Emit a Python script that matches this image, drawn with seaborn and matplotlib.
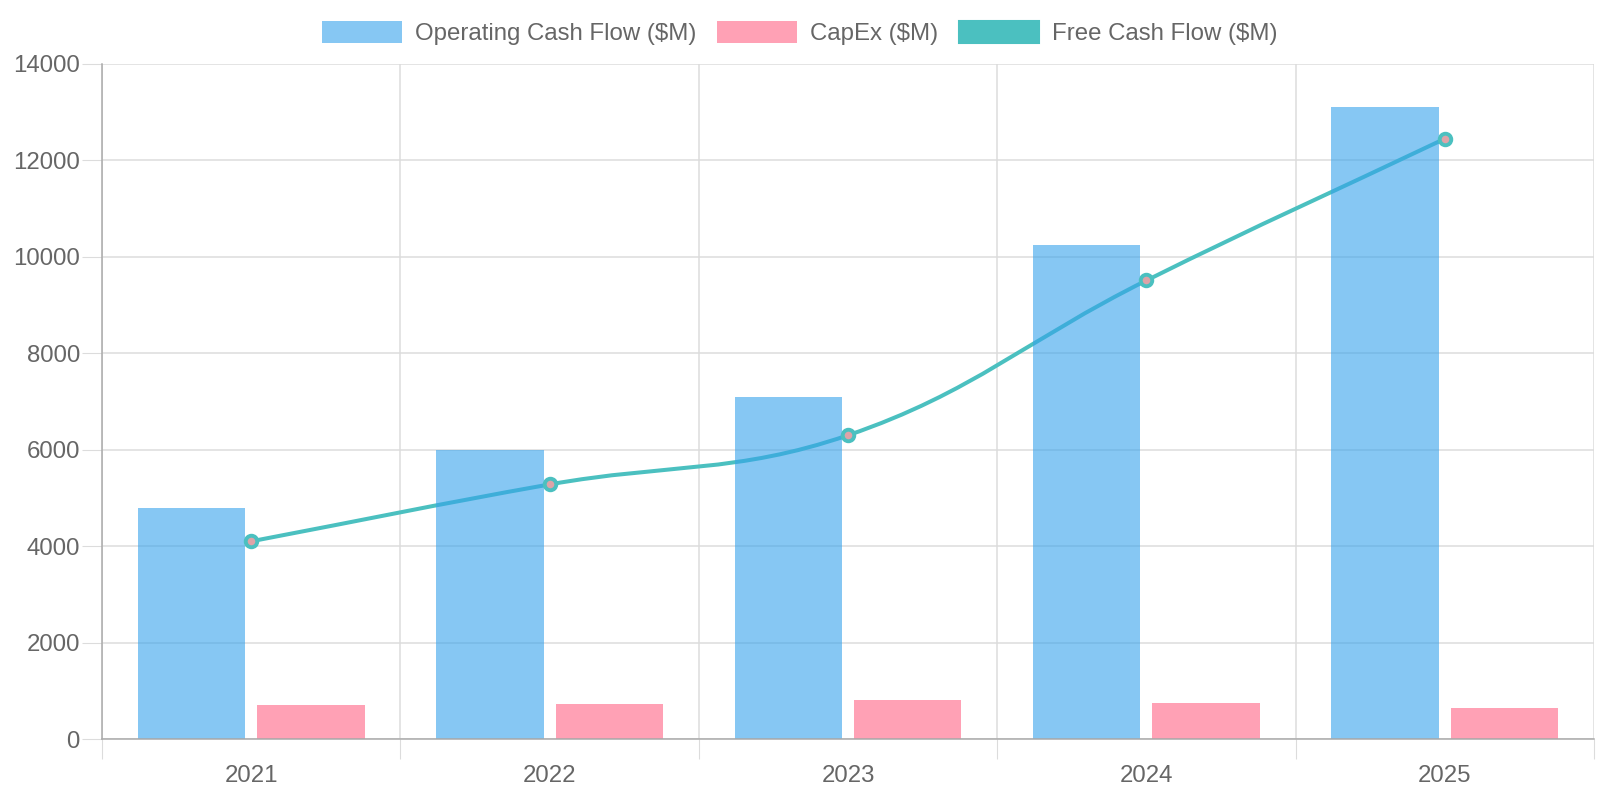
import numpy as np
import pandas as pd
import matplotlib
matplotlib.use("Agg")
import matplotlib.pyplot as plt
from matplotlib.patches import Patch, PathPatch
from matplotlib.path import Path
import seaborn as sns

# ---------------------------------------------------------------
# Data
# ---------------------------------------------------------------
years = ["2021", "2022", "2023", "2024", "2025"]
operating_cf = [4800, 6000, 7100, 10250, 13100]
capex = [700, 720, 800, 740, 650]
free_cf = [4100, 5280, 6300, 9510, 12450]

series_names = ["Operating Cash Flow ($M)", "CapEx ($M)", "Free Cash Flow ($M)"]
y_ticks = [0, 2000, 4000, 6000, 8000, 10000, 12000, 14000]

BLUE = "#36A2EB"
PINK = "#FF6384"
TEAL = "#4BC0C0"
GRID = "#dcdcdc"
TEXT = "#666666"
FS = 17.3

bars_df = pd.DataFrame({
    "Year": years * 2,
    "Value": operating_cf + capex,
    "Series": [series_names[0]] * len(years) + [series_names[1]] * len(years),
})

# ---------------------------------------------------------------
# Figure
# ---------------------------------------------------------------
sns.set_theme(style="white")
plt.rcParams["font.family"] = ["Liberation Sans", "DejaVu Sans"]

fig = plt.figure(figsize=(16, 8), dpi=100)
ax = fig.add_axes([102 / 1600, 1 - 739 / 800, (1594 - 102) / 1600, (739 - 64) / 800])

sns.barplot(
    data=bars_df, x="Year", y="Value", hue="Series",
    palette=[BLUE, PINK], width=0.8, gap=0.1, saturation=1,
    alpha=0.6, linewidth=0, legend=False, ax=ax, zorder=3,
)

ax.set_xlim(-0.5, len(years) - 0.5)
ax.set_ylim(0, 14000)
ax.set_yticks(y_ticks)
ax.set_xlabel("")
ax.set_ylabel("")

# smooth line like Chart.js (tension 0.4), control points in pixel space
xpos = np.arange(len(years))
pts = ax.transData.transform(np.column_stack([xpos, free_cf]))
tension = 0.4
cps = []
for i in range(len(pts)):
    prev = pts[i - 1] if i > 0 else pts[i]
    nxt = pts[i + 1] if i < len(pts) - 1 else pts[i]
    d01 = np.hypot(*(pts[i] - prev))
    d12 = np.hypot(*(nxt - pts[i]))
    tot = d01 + d12
    s01 = d01 / tot if tot else 0
    s12 = d12 / tot if tot else 0
    cps.append((pts[i] - tension * s01 * (nxt - prev), pts[i] + tension * s12 * (nxt - prev)))

verts = [pts[0]]
codes = [Path.MOVETO]
for i in range(len(pts) - 1):
    verts += [cps[i][1], cps[i + 1][0], pts[i + 1]]
    codes += [Path.CURVE4] * 3
verts = ax.transData.inverted().transform(np.array(verts))
ax.add_patch(PathPatch(Path(verts, codes), fill=False, edgecolor=TEAL,
                       linewidth=2.9, zorder=2, capstyle="round", joinstyle="round"))
ax.plot(xpos, free_cf, linestyle="none", marker="o", markersize=8.3,
        markerfacecolor="#DDA3A8", markeredgecolor=TEAL, markeredgewidth=2.8, zorder=4)

# grid & axes styling
ax.set_xticks(np.arange(-0.5, len(years), 1.0), minor=True)
ax.grid(axis="y", which="major", color=GRID, linewidth=1.1, zorder=0)
ax.grid(axis="x", which="minor", color=GRID, linewidth=1.1, zorder=0)
ax.grid(axis="x", which="major", visible=False)
ax.set_axisbelow(True)

ax.tick_params(axis="y", which="major", left=True, length=14.4, width=0.8, color=GRID,
               pad=1.5, labelsize=FS, labelcolor=TEXT)
ax.tick_params(axis="x", which="major", bottom=True, length=0, pad=19, labelsize=FS, labelcolor=TEXT)
ax.tick_params(axis="x", which="minor", bottom=True, length=14.4, width=0.8, color=GRID)
ax.set_yticklabels([str(t) for t in y_ticks])

sns.despine(ax=ax, top=True, right=True)
for side in ["left", "bottom"]:
    ax.spines[side].set_color("#aaaaaa")
    ax.spines[side].set_linewidth(1.1)
    ax.spines[side].set_zorder(5)

# legend
handles = [
    Patch(facecolor=BLUE, alpha=0.6, edgecolor="none"),
    Patch(facecolor=PINK, alpha=0.6, edgecolor="none"),
    Patch(facecolor=TEAL, edgecolor=TEAL, linewidth=1.5),
]
leg = fig.legend(handles, series_names, loc="center", bbox_to_anchor=(0.5, 1 - 33 / 800),
                 ncol=3, frameon=False, fontsize=FS, handlelength=3.33, handleheight=1.0,
                 handletextpad=0.55, columnspacing=0.85, borderpad=0)
for t in leg.get_texts():
    t.set_color(TEXT)

fig.savefig("out.png", dpi=100)
